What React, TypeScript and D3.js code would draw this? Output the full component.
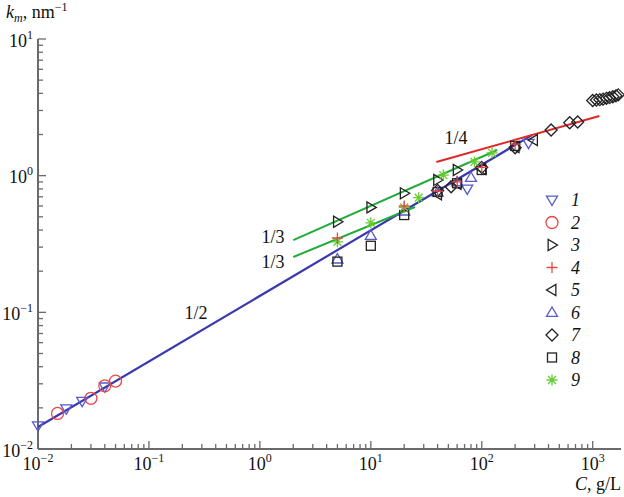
import React from 'react';
import * as d3 from 'd3';

const W = 624, H = 497;

// Series data (C in g/L, k_m in nm^-1)
const s1C = [0.01, 0.018, 0.025, 0.04, 74, 264];
const s1K = [0.0148, 0.0197, 0.0224, 0.0285, 0.8, 1.73];
const s2C = [0.015, 0.03, 0.04, 0.05];
const s2K = [0.0182, 0.0235, 0.029, 0.0314];
const s3C = [5, 10, 20, 40, 60];
const s3K = [0.46, 0.586, 0.743, 0.93, 1.1];
const s4C = [5, 20, 40, 60, 100, 200];
const s4K = [0.35, 0.6, 0.77, 0.9, 1.15, 1.7];
const s5C = [40, 60, 100, 200, 293];
const s5K = [0.73, 0.87, 1.12, 1.62, 1.82];
const s6C = [5, 10, 20, 40, 60, 80];
const s6K = [0.245, 0.365, 0.55, 0.76, 0.9, 0.97];
const s7C = [40, 53, 100, 200, 422, 621, 733, 1000, 1080, 1160, 1240, 1330, 1420, 1520, 1620, 1700];
const s7K = [0.78, 0.83, 1.15, 1.6, 2.16, 2.44, 2.47, 3.55, 3.58, 3.6, 3.63, 3.68, 3.72, 3.78, 3.84, 3.9];
const s8C = [5, 10, 20, 40, 60, 100, 200];
const s8K = [0.235, 0.307, 0.515, 0.76, 0.88, 1.1, 1.65];
const s9C = [5, 10, 20, 27, 45, 86, 124];
const s9K = [0.328, 0.452, 0.586, 0.69, 1.01, 1.26, 1.47];

// Fit lines: [C, k] endpoints
const line12C = [0.01, 284];
const line12K = [0.0145, 1.98];
const line13aC = [2, 138];
const line13aK = [0.338, 1.54];
const line13bC = [2, 25];
const line13bK = [0.254, 0.59];
const line14C = [39, 1150];
const line14K = [1.26, 2.73];

const xMajor = [0.01, 0.1, 1, 10, 100, 1000];
const xExp = ['−2', '−1', '0', '1', '2', '3'];
const yMajor = [0.01, 0.1, 1, 10];
const yExp = ['−2', '−1', '0', '1'];
const legendLabels = ['1', '2', '3', '4', '5', '6', '7', '8', '9'];

const BLUE = '#5a5ac8';
const LBLUE = '#3a3aae';
const RED = '#e84848';
const GREEN = '#22aa3a';
const SGREEN = '#66cc33';
const BLACK = '#222';
const AXIS = '#6a6a6a';
const FONT = '"Liberation Serif", "Times New Roman", serif';

function Marker({ type, x, y }: { type: string; x: number; y: number }) {
  const s = 5.5;
  const common = { fill: 'none', strokeWidth: 1.3 } as any;
  switch (type) {
    case 'tdown':
      return <path d={`M${x - s},${y - s * 0.7}L${x + s},${y - s * 0.7}L${x},${y + s * 1.0}Z`} stroke={BLUE} {...common} />;
    case 'tup':
      return <path d={`M${x - s},${y + s * 0.7}L${x + s},${y + s * 0.7}L${x},${y - s * 1.0}Z`} stroke={BLUE} {...common} />;
    case 'tright':
      return <path d={`M${x - s * 0.7},${y - s}L${x - s * 0.7},${y + s}L${x + s},${y}Z`} stroke={BLACK} {...common} />;
    case 'tleft':
      return <path d={`M${x + s * 0.7},${y - s}L${x + s * 0.7},${y + s}L${x - s},${y}Z`} stroke={BLACK} {...common} />;
    case 'circle':
      return <circle cx={x} cy={y} r={6} stroke={RED} {...common} />;
    case 'plus':
      return <path d={`M${x - s},${y}L${x + s},${y}M${x},${y - s}L${x},${y + s}`} stroke={RED} {...common} />;
    case 'diamond':
      return <path d={`M${x},${y - 6}L${x + 6},${y}L${x},${y + 6}L${x - 6},${y}Z`} stroke={BLACK} {...common} />;
    case 'square':
      return <rect x={x - 4.5} y={y - 4.5} width={9} height={9} stroke={BLACK} {...common} />;
    case 'star': {
      const r = 5.5, d = r * 0.72;
      return <path d={`M${x - r},${y}L${x + r},${y}M${x},${y - r}L${x},${y + r}M${x - d},${y - d}L${x + d},${y + d}M${x - d},${y + d}L${x + d},${y - d}`} stroke={SGREEN} {...common} />;
    }
  }
  return null;
}

export default function App() {
  const x = d3.scaleLog().domain([0.01, 1800]).range([38, 621]);
  const y = d3.scaleLog().domain([0.01, 10]).range([449, 39]);

  const series = [
    { type: 'tdown', C: s1C, K: s1K },
    { type: 'circle', C: s2C, K: s2K },
    { type: 'tright', C: s3C, K: s3K },
    { type: 'tleft', C: s5C, K: s5K },
    { type: 'tup', C: s6C, K: s6K },
    { type: 'diamond', C: s7C, K: s7K },
    { type: 'square', C: s8C, K: s8K },
    { type: 'star', C: s9C, K: s9K },
    { type: 'plus', C: s4C, K: s4K },
  ];
  const legendTypes = ['tdown', 'circle', 'tright', 'plus', 'tleft', 'tup', 'diamond', 'square', 'star'];

  const line = d3.line<[number, number]>().x(d => x(d[0])).y(d => y(d[1]));
  const mk = (C: number[], K: number[]) => line(C.map((c, i) => [c, K[i]] as [number, number])) || '';

  const xTicks: { v: number; major: boolean }[] = [];
  for (let e = -2; e <= 3; e++) {
    for (let m = 1; m <= 9; m++) {
      const v = m * Math.pow(10, e);
      if (v <= 1800) xTicks.push({ v, major: m === 1 });
    }
  }
  const yTicks: { v: number; major: boolean }[] = [];
  for (let e = -2; e <= 1; e++) {
    for (let m = 1; m <= 9; m++) {
      const v = m * Math.pow(10, e);
      if (v <= 10.0001) yTicks.push({ v, major: m === 1 });
    }
  }

  return (
    <svg width={W} height={H} style={{ display: 'block', position: 'absolute', left: 0, top: 0 }} fontFamily={FONT}>
      <rect width={W} height={H} fill="#fff" />
      {/* axes */}
      <line x1={38} x2={38} y1={39} y2={449} stroke={AXIS} strokeWidth={2} />
      <line x1={38} x2={621} y1={449} y2={449} stroke={AXIS} strokeWidth={2} />
      {xTicks.map((t, i) => (
        <line key={'xt' + i} x1={x(t.v)} x2={x(t.v)} y1={449} y2={449 - (t.major ? 8 : 5)} stroke={AXIS} strokeWidth={1.3} />
      ))}
      {yTicks.map((t, i) => (
        <line key={'yt' + i} x1={38} x2={38 + (t.major ? 8 : 5)} y1={y(t.v)} y2={y(t.v)} stroke={AXIS} strokeWidth={1.3} />
      ))}
      {xMajor.map((v, i) => (
        <text key={'xl' + i} x={x(v)} y={470} textAnchor="middle" fontSize={18} fill="#111">
          <tspan>10</tspan>
          <tspan dy={-8} fontSize={12}>{xExp[i]}</tspan>
        </text>
      ))}
      {yMajor.map((v, i) => (
        <text key={'yl' + i} x={33} y={y(v) + 7.5} textAnchor="end" fontSize={18} fill="#111">
          <tspan>10</tspan>
          <tspan dy={-8} fontSize={12}>{yExp[i]}</tspan>
        </text>
      ))}
      {/* axis titles */}
      <text x={6} y={18} fontSize={18} fill="#111">
        <tspan fontStyle="italic">k</tspan>
        <tspan fontStyle="italic" fontSize={12} dy={4}>m</tspan>
        <tspan dy={-4}>, nm</tspan>
        <tspan fontSize={12} dy={-7}>−1</tspan>
      </text>
      <text x={621} y={490} textAnchor="end" fontSize={18} fill="#111">
        <tspan fontStyle="italic">C</tspan>
        <tspan>, g/L</tspan>
      </text>
      {/* fit lines */}
      <path d={mk(line12C, line12K)} stroke={LBLUE} strokeWidth={2.2} fill="none" />
      <path d={mk(line13aC, line13aK)} stroke={GREEN} strokeWidth={2} fill="none" />
      <path d={mk(line13bC, line13bK)} stroke={GREEN} strokeWidth={2} fill="none" />
      <path d={mk(line14C, line14K)} stroke="#e02828" strokeWidth={2} fill="none" />
      {/* data */}
      {series.map((s, si) =>
        s.C.map((c, i) => <Marker key={si + '-' + i} type={s.type} x={x(c)} y={y(s.K[i])} />)
      )}
      {/* slope labels */}
      <text x={196} y={319} textAnchor="middle" fontSize={18} fill="#111">1/2</text>
      <text x={273} y={243} textAnchor="middle" fontSize={18} fill="#111">1/3</text>
      <text x={273} y={268} textAnchor="middle" fontSize={18} fill="#111">1/3</text>
      <text x={456} y={144} textAnchor="middle" fontSize={18} fill="#111">1/4</text>
      {/* legend */}
      {legendTypes.map((t, i) => (
        <g key={'lg' + i}>
          <Marker type={t} x={552} y={200 + 22.5 * i} />
          <text x={571} y={200 + 22.5 * i + 6} fontSize={18} fontStyle="italic" fill="#111">{legendLabels[i]}</text>
        </g>
      ))}
    </svg>
  );
}
